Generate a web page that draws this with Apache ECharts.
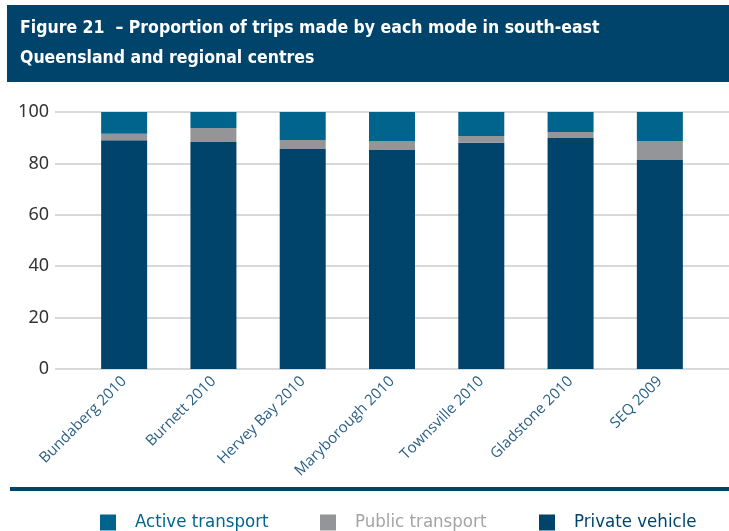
<!DOCTYPE html>
<html>
<head>
<meta charset="utf-8">
<script src="https://cdn.jsdelivr.net/npm/echarts@6/dist/echarts.min.js"></script>
<style>
  html, body { margin: 0; padding: 0; background: #fff; }
  #chart { width: 729px; height: 531px; }
</style>
</head>
<body>
<div id="chart"></div>
<script>
// values (percent of trips)
const places = ["Bundaberg 2010", "Burnett 2010", "Hervey Bay 2010", "Maryborough 2010",
  "Townsville 2010", "Gladstone 2010", "SEQ 2009"];
const privateVehicle = [89.0, 88.3, 85.6, 85.2, 88.0, 89.9, 81.3];
const publicTransport = [2.5, 5.5, 3.5, 3.5, 2.7, 2.3, 7.4];
const activeTransport = [8.5, 6.2, 10.9, 11.3, 9.3, 7.8, 11.3];

const navy = "#00436b";
const grey = "#939598";
const teal = "#00648c";
const condensed = "'Liberation Sans Narrow', 'DejaVu Sans Condensed', sans-serif";

var chart = echarts.init(document.getElementById("chart"), null, { renderer: "canvas" });

function legendAt(x, name, color) {
  return {
    left: x, top: 513, padding: 0,
    itemWidth: 16, itemHeight: 16,
    data: [{ name: name, icon: "rect", textStyle: { color: color } }],
    textStyle: { fontSize: 18.5, fontFamily: condensed, padding: [0, 0, 0, 14] }
  };
}

var option = {
  animation: false,
  backgroundColor: "#fff",
  graphic: [
    { type: "rect", shape: { x: 7, y: 5, width: 722, height: 77 }, style: { fill: navy }, z: 0 },
    { type: "rect", shape: { x: 10, y: 487, width: 719, height: 4 }, style: { fill: navy }, z: 0 }
  ],
  title: {
    text: "Figure 21  – Proportion of trips made by each mode in south-east\nQueensland and regional centres",
    left: 20,
    top: 13,
    padding: 0,
    textStyle: {
      color: "#fff",
      fontFamily: condensed,
      fontWeight: "bold",
      fontSize: 17.5,
      lineHeight: 30
    }
  },
  legend: [
    legendAt(100, "Active transport", teal),
    legendAt(320, "Public transport", "#a3a4a6"),
    legendAt(539, "Private vehicle", navy)
  ],
  grid: [
    { left: 55, right: 0, top: 112, bottom: 162 },
    { left: 79.5, right: 24.5, top: 112, bottom: 162 }
  ],
  xAxis: [
    { gridIndex: 0, type: "value", show: false, min: 0, max: 1 },
    {
      gridIndex: 1,
      type: "category",
      data: places,
      axisLine: { show: false },
      axisTick: { show: false },
      axisLabel: {
        rotate: 45,
        margin: 10,
        fontSize: 15,
        color: "#2a5f85",
        fontFamily: "'Open Sans', sans-serif"
      }
    }
  ],
  yAxis: [
    {
      gridIndex: 0,
      type: "value",
      min: 0,
      max: 100,
      interval: 20,
      axisLine: { show: false },
      axisTick: { show: false },
      axisLabel: { fontSize: 18, color: "#333", margin: 6, fontFamily: "'Noto Sans', sans-serif" },
      splitLine: { lineStyle: { color: "#cccccc", width: 1.5 } }
    },
    { gridIndex: 1, type: "value", min: 0, max: 100, show: false }
  ],
  series: [
    { name: "Private vehicle", type: "bar", stack: "all", xAxisIndex: 1, yAxisIndex: 1,
      barWidth: 46, itemStyle: { color: navy }, data: privateVehicle },
    { name: "Public transport", type: "bar", stack: "all", xAxisIndex: 1, yAxisIndex: 1,
      barWidth: 46, itemStyle: { color: grey }, data: publicTransport },
    { name: "Active transport", type: "bar", stack: "all", xAxisIndex: 1, yAxisIndex: 1,
      barWidth: 46, itemStyle: { color: teal }, data: activeTransport }
  ]
};

chart.setOption(option);
</script>
</body>
</html>
